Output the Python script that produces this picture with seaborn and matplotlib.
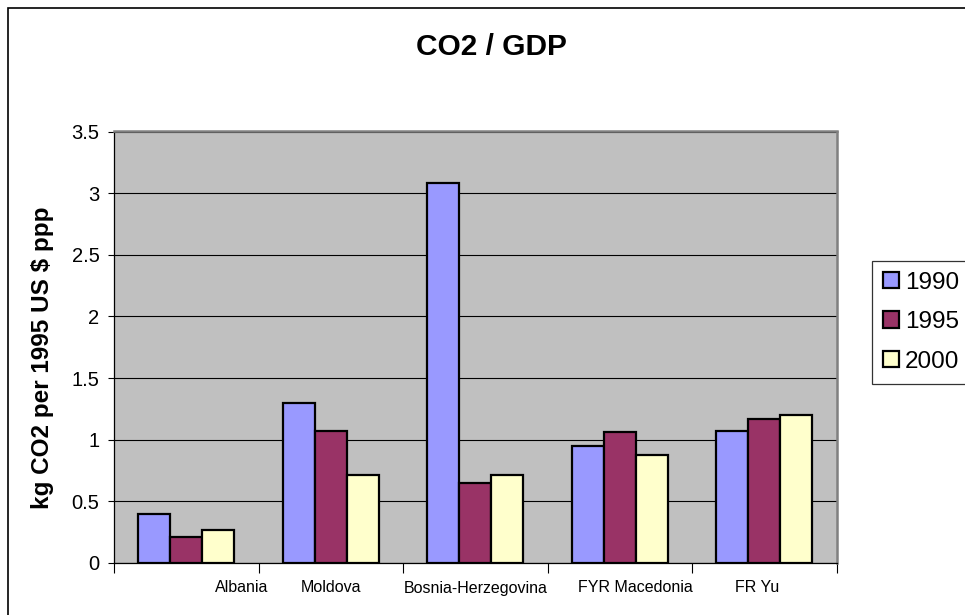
import matplotlib
matplotlib.use("Agg")
import matplotlib.pyplot as plt
import matplotlib.patches as mpatches
from matplotlib.transforms import ScaledTranslation
from matplotlib.ticker import FuncFormatter, FixedLocator
import numpy as np
import pandas as pd
import seaborn as sns

# --- data -------------------------------------------------------------
countries = ["Albania", "Moldova", "Bosnia-Herzegovina", "FYR Macedonia", "FR Yu"]
years = ["1990", "1995", "2000"]
co2_1990 = [0.40, 1.30, 3.08, 0.95, 1.07]
co2_1995 = [0.21, 1.07, 0.65, 1.06, 1.165]
co2_2000 = [0.27, 0.71, 0.71, 0.88, 1.20]
y_ticks = [0, 0.5, 1, 1.5, 2, 2.5, 3, 3.5]

df = pd.DataFrame({
    "country": countries * 3,
    "year": [y for y in years for _ in countries],
    "value": co2_1990 + co2_1995 + co2_2000,
})

# --- styling ----------------------------------------------------------
sns.set_style("white")
plt.rcParams["font.family"] = ["Liberation Sans", "DejaVu Sans"]
plt.rcParams.update({
    "text.color": "black",
    "axes.labelcolor": "black",
    "xtick.color": "black",
    "ytick.color": "black",
    "xtick.labelcolor": "black",
    "ytick.labelcolor": "black",
})

palette = {"1990": "#9999FF", "1995": "#993366", "2000": "#FFFFCC"}
W, H, DPI = 965, 615, 100
fig = plt.figure(figsize=(W / DPI, H / DPI), dpi=DPI, facecolor="white")

left, right, top, bottom = 114, 836.5, 131.5, 563
ax = fig.add_axes([left / W, 1 - bottom / H, (right - left) / W, (bottom - top) / H])
ax.set_facecolor("#C0C0C0")

sns.barplot(data=df, x="country", y="value", hue="year", order=countries,
            hue_order=years, palette=palette, width=2 / 3, edgecolor="black",
            linewidth=1.6, saturation=1, errorbar=None, ax=ax, zorder=3)

ax.set_ylim(0, 3.5)
ax.set_xlim(-0.5, len(countries) - 0.5)
ax.set_axisbelow(True)

# horizontal gridlines
ax.yaxis.set_major_locator(FixedLocator(y_ticks))
ax.yaxis.grid(True, color="black", linewidth=0.8)
ax.xaxis.grid(False)
ax.yaxis.set_major_formatter(FuncFormatter(lambda v, p: f"{v:g}"))
ax.tick_params(axis="y", direction="out", length=4.5, width=0.8, color="black",
               labelsize=14.5, pad=6, left=True, labelcolor="black")

# category ticks sit between groups; labels drawn separately
ax.set_xticks(np.arange(-0.5, len(countries), 1.0))
ax.set_xticklabels([])
ax.tick_params(axis="x", direction="out", length=7.5, width=0.8, color="black",
               bottom=True)
ax.set_xlabel("")
ax.set_ylabel("")

label_shift_px = [55, 0, 0, 16, -7]
for i, (name, dx) in enumerate(zip(countries, label_shift_px)):
    tr = ax.get_xaxis_transform() + ScaledTranslation(dx / DPI, -25 / DPI, fig.dpi_scale_trans)
    ax.text(i, 0, name, transform=tr, ha="center", va="center", fontsize=11.5,
            color="black")

for side in ("left", "bottom"):
    ax.spines[side].set_color("black")
    ax.spines[side].set_linewidth(0.9)
for side in ("top", "right"):
    ax.spines[side].set_color("#808080")
    ax.spines[side].set_linewidth(1.8)
    ax.spines[side].set_visible(True)

# title and axis label
fig.text(491.7 / W, 1 - 47 / H, "CO2 / GDP", ha="center", va="center",
         fontsize=21.5, fontweight="bold", color="black")
fig.text(42.5 / W, 1 - 358 / H, "kg CO2 per 1995 US $ ppp", ha="center",
         va="center", rotation=90, fontsize=17.5, fontweight="bold", color="black")

# legend
ax.get_legend().remove()
handles = [mpatches.Patch(facecolor=palette[y], edgecolor="black", linewidth=1.6)
           for y in years]
leg = fig.legend(handles, years, loc="upper left",
                 bbox_to_anchor=(871.7 / W, 1 - 260.7 / H),
                 fontsize=17.5, frameon=True, fancybox=False, borderpad=0.45,
                 handlelength=0.68, handleheight=0.68, handletextpad=0.25,
                 labelspacing=0.72, borderaxespad=0)
leg.get_frame().set_edgecolor("black")
leg.get_frame().set_linewidth(0.9)
for t in leg.get_texts():
    t.set_color("black")

# outer chart border
fig.patches.append(mpatches.Rectangle((8 / W, -0.05), 1.05, 1 - 7.5 / H + 0.05,
                                      transform=fig.transFigure, fill=False,
                                      edgecolor="black", linewidth=1.2))

fig.savefig("out.png", dpi=DPI)
